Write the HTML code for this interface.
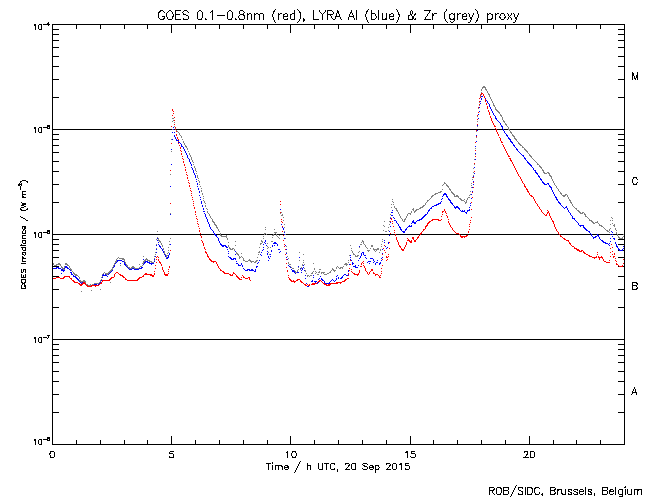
<!DOCTYPE html>
<html lang="en">
<head>
<meta charset="utf-8">
<title>GOES 0.1-0.8nm (red), LYRA Al (blue) &amp; Zr (grey) proxy</title>
<style>
html,body{margin:0;padding:0;background:#fff;overflow:hidden}
body{width:650px;height:500px;font-family:"Liberation Sans",sans-serif}
svg{display:block;width:650px;height:500px;shape-rendering:crispEdges}
.t text{font-family:"Liberation Sans",sans-serif;fill:#000;fill-opacity:0;stroke:none}
</style>
</head>
<body>
<svg width="650" height="500" viewBox="0 0 650 500" role="img" aria-label="GOES 0.1-0.8nm (red), LYRA Al (blue) and Zr (grey) proxy, 20 Sep 2015">
<rect width="650" height="500" fill="#fff"/>
<path fill="#7f7f7f" d="M53 263h1v2h-1zM54 265h3v1h-3zM56 264h5v1h-5zM58 263h2v1h-2zM60 265h1v1h-1zM61 266h1v1h-1zM61 267h2v1h-2zM62 268h2v1h-2zM63 269h2v1h-2zM64 266h1v2h-1zM65 263h2v1h-2zM65 264h3v1h-3zM67 265h2v1h-2zM69 266h1v2h-1zM70 268h1v1h-1zM70 269h2v1h-2zM71 270h1v1h-1zM72 271h1v1h-1zM73 272h1v1h-1zM73 273h2v1h-2zM74 274h3v1h-3zM75 275h3v1h-3zM78 276h1v1h-1zM79 277h1v2h-1zM79 280h2v1h-2zM80 281h6v1h-6zM81 282h1v1h-1zM81 291h1v1h-1zM83 280h2v1h-2zM85 282h1v1h-1zM86 284h2v1h-2zM88 285h3v1h-3zM90 284h1v1h-1zM91 290h1v1h-1zM92 284h2v1h-2zM94 283h5v1h-5zM99 282h1v1h-1zM100 280h1v2h-1zM100 289h1v1h-1zM101 277h1v1h-1zM101 279h1v1h-1zM102 274h1v1h-1zM102 276h1v1h-1zM103 273h1v1h-1zM104 272h1v1h-1zM105 273h4v1h-4zM106 274h2v1h-2zM108 272h2v1h-2zM109 271h2v1h-2zM110 282h1v1h-1zM110 270h2v1h-2zM111 269h2v1h-2zM112 267h1v2h-1zM113 265h1v2h-1zM114 263h1v2h-1zM115 262h1v1h-1zM115 261h2v1h-2zM116 259h1v2h-1zM117 258h1v1h-1zM118 257h1v1h-1zM119 258h5v1h-5zM120 265h1v1h-1zM122 259h3v1h-3zM124 260h1v2h-1zM125 262h1v2h-1zM126 264h1v1h-1zM126 265h2v1h-2zM127 266h1v1h-1zM128 267h2v1h-2zM129 268h3v1h-3zM131 267h4v1h-4zM132 266h2v1h-2zM134 268h5v1h-5zM139 264h1v1h-1zM139 267h1v1h-1zM140 266h2v1h-2zM142 265h1v1h-1zM142 263h2v1h-2zM143 256h1v1h-1zM143 262h1v1h-1zM143 261h2v1h-2zM144 260h2v1h-2zM145 259h3v1h-3zM146 258h1v1h-1zM147 260h3v1h-3zM149 261h3v1h-3zM151 262h3v1h-3zM154 256h1v1h-1zM154 258h1v1h-1zM154 260h1v1h-1zM155 252h1v1h-1zM155 254h1v1h-1zM156 239h1v1h-1zM156 244h1v1h-1zM156 248h1v1h-1zM157 231h1v1h-1zM157 237h1v1h-1zM158 238h1v2h-1zM158 240h2v1h-2zM159 241h2v1h-2zM160 242h1v1h-1zM161 243h1v2h-1zM162 245h1v2h-1zM163 248h1v2h-1zM164 251h1v3h-1zM165 254h1v1h-1zM166 256h1v2h-1zM166 255h2v1h-2zM167 253h1v1h-1zM168 247h1v1h-1zM168 250h1v1h-1zM168 252h1v1h-1zM169 241h1v1h-1zM169 244h1v1h-1zM170 174h1v1h-1zM170 213h1v1h-1zM170 238h1v1h-1zM171 139h1v1h-1zM171 151h1v1h-1zM172 121h1v1h-1zM172 129h1v1h-1zM172 118h2v1h-2zM173 120h1v1h-1zM174 122h1v1h-1zM174 126h1v1h-1zM175 128h1v1h-1zM176 130h1v1h-1zM177 131h1v1h-1zM178 132h1v1h-1zM179 133h1v2h-1zM180 135h1v1h-1zM181 136h1v2h-1zM182 139h1v1h-1zM183 141h1v2h-1zM184 143h1v2h-1zM185 145h1v1h-1zM185 146h2v1h-2zM186 147h1v1h-1zM187 148h1v2h-1zM188 151h1v1h-1zM189 153h1v2h-1zM190 155h1v2h-1zM191 157h1v3h-1zM192 160h1v2h-1zM193 162h1v1h-1zM193 164h1v1h-1zM194 166h1v2h-1zM195 168h1v3h-1zM196 171h1v1h-1zM196 173h1v1h-1zM197 175h1v3h-1zM198 178h1v1h-1zM198 180h1v1h-1zM199 181h1v2h-1zM199 184h1v1h-1zM200 186h1v1h-1zM201 188h1v1h-1zM201 190h1v2h-1zM202 193h1v2h-1zM203 196h1v1h-1zM203 198h1v1h-1zM203 200h1v1h-1zM204 201h1v2h-1zM205 203h1v1h-1zM205 205h1v2h-1zM206 208h1v1h-1zM207 209h1v1h-1zM207 211h1v2h-1zM208 213h1v1h-1zM209 214h1v2h-1zM210 216h1v2h-1zM211 218h1v1h-1zM212 219h1v2h-1zM212 221h2v1h-2zM213 222h2v1h-2zM214 223h1v1h-1zM214 224h2v1h-2zM215 225h2v1h-2zM216 226h1v1h-1zM216 227h2v1h-2zM217 228h1v1h-1zM218 229h1v2h-1zM219 231h1v1h-1zM220 233h1v2h-1zM220 235h2v1h-2zM221 236h6v1h-6zM226 235h1v1h-1zM226 237h1v1h-1zM227 238h1v2h-1zM228 242h1v1h-1zM228 245h1v2h-1zM229 247h1v1h-1zM229 248h2v1h-2zM230 249h3v1h-3zM232 248h2v1h-2zM234 249h1v2h-1zM235 241h1v1h-1zM235 245h1v1h-1zM236 252h1v1h-1zM236 253h2v1h-2zM237 254h2v1h-2zM238 255h1v1h-1zM239 256h1v1h-1zM239 258h1v1h-1zM239 257h2v1h-2zM241 253h1v1h-1zM241 256h1v1h-1zM242 257h1v1h-1zM243 258h1v2h-1zM243 260h2v1h-2zM245 261h3v1h-3zM248 260h3v1h-3zM249 259h1v1h-1zM250 261h4v1h-4zM251 262h1v1h-1zM254 262h2v1h-2zM255 261h2v1h-2zM256 260h2v1h-2zM257 257h1v1h-1zM258 254h1v1h-1zM258 252h2v1h-2zM259 247h1v1h-1zM259 251h1v1h-1zM260 244h1v1h-1zM260 243h2v1h-2zM261 240h1v1h-1zM261 241h2v1h-2zM262 242h1v1h-1zM263 236h1v1h-1zM263 238h1v1h-1zM264 234h1v1h-1zM264 233h2v1h-2zM265 227h1v1h-1zM265 229h1v1h-1zM266 234h1v1h-1zM267 243h1v1h-1zM267 246h1v1h-1zM267 248h1v1h-1zM268 247h1v1h-1zM268 252h1v1h-1zM269 254h1v1h-1zM270 247h1v1h-1zM271 241h2v1h-2zM272 237h1v1h-1zM272 235h2v1h-2zM273 234h1v1h-1zM274 229h1v1h-1zM274 232h3v1h-3zM275 233h1v1h-1zM276 234h1v2h-1zM277 236h1v1h-1zM278 237h1v1h-1zM279 235h1v1h-1zM279 238h1v1h-1zM280 213h1v1h-1zM281 212h1v1h-1zM281 215h2v1h-2zM282 214h1v1h-1zM283 217h1v1h-1zM283 220h1v1h-1zM284 224h1v1h-1zM284 227h1v1h-1zM284 231h1v1h-1zM285 234h1v1h-1zM285 238h1v1h-1zM286 246h1v1h-1zM286 252h1v1h-1zM287 256h1v1h-1zM288 258h1v1h-1zM288 262h1v2h-1zM289 264h2v1h-2zM290 266h1v1h-1zM291 267h1v1h-1zM292 268h2v1h-2zM294 270h1v1h-1zM295 271h1v1h-1zM295 272h2v1h-2zM297 270h1v2h-1zM298 267h1v1h-1zM298 269h1v1h-1zM299 252h1v1h-1zM299 260h1v1h-1zM300 269h1v1h-1zM301 267h1v2h-1zM302 264h1v2h-1zM303 254h1v1h-1zM303 260h1v1h-1zM303 262h1v1h-1zM304 264h1v1h-1zM304 268h1v1h-1zM305 270h1v2h-1zM306 273h1v1h-1zM307 276h1v1h-1zM307 275h2v1h-2zM309 276h1v1h-1zM310 275h2v1h-2zM311 273h2v1h-2zM312 272h1v1h-1zM313 263h1v1h-1zM313 271h1v1h-1zM314 268h1v2h-1zM315 271h1v1h-1zM315 273h1v1h-1zM316 272h1v1h-1zM317 274h2v1h-2zM318 272h2v1h-2zM319 271h1v1h-1zM319 269h2v1h-2zM321 273h1v1h-1zM321 272h4v1h-4zM323 273h1v1h-1zM324 274h3v1h-3zM327 273h2v1h-2zM329 272h2v1h-2zM330 271h1v1h-1zM331 270h1v1h-1zM332 268h1v1h-1zM332 269h2v1h-2zM333 270h3v1h-3zM334 271h1v1h-1zM336 267h1v2h-1zM337 266h1v1h-1zM338 267h1v1h-1zM339 268h2v1h-2zM340 267h3v1h-3zM342 268h1v1h-1zM343 266h1v1h-1zM344 264h4v1h-4zM345 263h2v1h-2zM346 265h1v1h-1zM348 260h1v1h-1zM348 262h1v1h-1zM349 255h1v1h-1zM350 245h1v1h-1zM351 248h1v1h-1zM351 250h1v1h-1zM352 251h1v2h-1zM353 253h1v1h-1zM353 254h2v1h-2zM355 255h1v1h-1zM355 256h3v1h-3zM357 255h2v1h-2zM358 252h1v1h-1zM359 247h1v1h-1zM359 251h1v1h-1zM360 244h2v1h-2zM361 242h1v1h-1zM362 240h1v1h-1zM362 241h2v1h-2zM363 242h1v2h-1zM364 244h1v1h-1zM365 245h1v2h-1zM366 247h1v1h-1zM367 248h1v1h-1zM367 250h3v1h-3zM368 251h1v1h-1zM370 248h1v1h-1zM371 245h2v2h-2zM373 248h1v1h-1zM373 249h6v1h-6zM374 250h1v1h-1zM375 251h1v1h-1zM376 250h1v1h-1zM377 248h2v1h-2zM379 252h1v1h-1zM380 249h1v2h-1zM381 244h1v1h-1zM381 246h1v1h-1zM382 239h1v1h-1zM382 241h1v1h-1zM383 225h1v1h-1zM383 230h1v1h-1zM384 221h1v1h-1zM384 226h1v1h-1zM385 231h2v1h-2zM388 227h1v1h-1zM388 230h1v1h-1zM389 221h1v1h-1zM389 224h1v1h-1zM390 214h1v1h-1zM390 217h1v1h-1zM391 204h1v1h-1zM391 207h1v1h-1zM392 199h1v1h-1zM392 201h1v1h-1zM393 202h1v1h-1zM393 204h1v1h-1zM394 206h1v2h-1zM395 208h2v1h-2zM396 209h1v1h-1zM396 210h2v1h-2zM397 211h1v1h-1zM398 212h1v2h-1zM399 214h1v2h-1zM400 216h1v2h-1zM401 218h1v1h-1zM402 219h1v2h-1zM403 221h2v1h-2zM404 220h1v1h-1zM404 219h2v1h-2zM405 218h1v1h-1zM406 216h1v2h-1zM407 214h1v2h-1zM408 213h3v1h-3zM410 214h1v1h-1zM411 211h1v2h-1zM412 209h2v1h-2zM413 208h1v1h-1zM413 210h1v1h-1zM414 212h1v1h-1zM414 211h2v1h-2zM415 210h2v1h-2zM416 209h3v1h-3zM419 208h2v1h-2zM420 207h3v1h-3zM422 206h2v1h-2zM423 205h2v1h-2zM425 203h1v2h-1zM426 202h1v1h-1zM427 201h1v1h-1zM427 200h2v1h-2zM429 199h1v1h-1zM430 198h1v1h-1zM431 197h1v1h-1zM431 196h2v1h-2zM432 195h2v1h-2zM434 194h2v1h-2zM435 193h3v1h-3zM438 192h3v1h-3zM440 191h2v1h-2zM442 185h1v1h-1zM442 189h1v1h-1zM443 184h1v1h-1zM444 182h1v1h-1zM444 183h2v1h-2zM446 184h1v1h-1zM446 185h2v1h-2zM447 186h2v1h-2zM448 187h1v1h-1zM449 188h1v1h-1zM449 189h2v1h-2zM450 190h1v1h-1zM451 191h1v1h-1zM451 192h2v1h-2zM452 193h2v1h-2zM453 194h2v1h-2zM454 195h1v1h-1zM454 196h5v1h-5zM456 195h2v1h-2zM458 197h1v1h-1zM459 198h2v1h-2zM460 199h2v1h-2zM461 200h3v1h-3zM464 199h1v1h-1zM464 201h1v1h-1zM465 203h1v1h-1zM465 202h2v1h-2zM466 200h1v2h-1zM467 198h1v2h-1zM468 197h2v1h-2zM469 195h1v1h-1zM470 191h1v1h-1zM470 194h1v1h-1zM471 183h1v1h-1zM471 185h1v1h-1zM471 187h1v1h-1zM472 177h1v1h-1zM472 179h1v1h-1zM473 168h1v1h-1zM473 172h1v1h-1zM473 175h1v1h-1zM474 159h1v1h-1zM474 164h1v1h-1zM475 148h1v1h-1zM475 154h1v1h-1zM476 131h1v1h-1zM476 137h1v1h-1zM477 116h1v1h-1zM477 121h1v1h-1zM477 126h1v1h-1zM478 108h1v1h-1zM479 102h1v1h-1zM479 105h1v1h-1zM480 94h1v1h-1zM480 96h1v1h-1zM481 89h1v2h-1zM481 92h1v1h-1zM482 88h1v1h-1zM482 87h4v1h-4zM483 86h2v1h-2zM485 88h1v1h-1zM485 89h2v1h-2zM486 90h1v1h-1zM487 91h1v2h-1zM488 93h1v1h-1zM488 94h2v1h-2zM489 95h1v2h-1zM490 97h1v2h-1zM491 99h1v2h-1zM492 101h1v2h-1zM493 103h1v2h-1zM493 105h2v1h-2zM494 106h1v1h-1zM495 107h1v2h-1zM495 109h2v1h-2zM496 110h2v1h-2zM497 111h2v1h-2zM498 112h2v1h-2zM499 113h1v1h-1zM500 114h1v1h-1zM500 115h2v1h-2zM501 116h1v1h-1zM502 117h1v3h-1zM503 120h1v1h-1zM503 121h2v1h-2zM504 122h1v1h-1zM505 123h1v1h-1zM505 124h2v1h-2zM506 125h1v1h-1zM507 126h1v1h-1zM508 127h1v2h-1zM508 129h2v1h-2zM509 130h1v1h-1zM510 131h1v1h-1zM510 132h2v1h-2zM511 133h1v1h-1zM512 134h1v1h-1zM512 135h2v1h-2zM513 136h2v1h-2zM514 137h1v1h-1zM514 138h2v1h-2zM515 139h2v1h-2zM516 140h1v1h-1zM517 141h1v1h-1zM518 142h1v1h-1zM518 143h2v1h-2zM519 144h2v1h-2zM520 145h2v1h-2zM522 146h1v1h-1zM522 147h2v1h-2zM524 148h1v1h-1zM524 149h2v1h-2zM525 150h2v1h-2zM526 151h2v1h-2zM527 152h1v1h-1zM528 153h1v1h-1zM529 154h1v1h-1zM529 155h2v1h-2zM530 156h2v1h-2zM531 157h1v1h-1zM532 158h1v1h-1zM533 159h1v1h-1zM534 160h1v1h-1zM535 161h1v1h-1zM536 162h1v1h-1zM537 163h1v1h-1zM537 164h2v1h-2zM539 165h1v1h-1zM539 166h2v1h-2zM540 167h2v1h-2zM541 168h1v1h-1zM542 169h1v1h-1zM542 170h2v1h-2zM543 171h1v1h-1zM543 172h2v1h-2zM544 173h3v1h-3zM547 172h2v1h-2zM548 173h2v1h-2zM549 174h1v1h-1zM549 175h2v1h-2zM550 176h2v1h-2zM551 177h1v2h-1zM552 179h1v2h-1zM553 181h1v2h-1zM554 183h1v2h-1zM555 185h1v1h-1zM556 186h1v2h-1zM557 188h1v1h-1zM558 189h1v2h-1zM559 191h1v1h-1zM560 192h1v1h-1zM560 193h2v1h-2zM561 194h1v1h-1zM562 195h4v1h-4zM563 196h2v1h-2zM565 194h2v1h-2zM567 195h1v2h-1zM568 197h1v2h-1zM569 199h1v1h-1zM569 200h2v1h-2zM570 201h1v1h-1zM570 202h2v1h-2zM571 203h1v1h-1zM572 204h1v2h-1zM573 206h1v1h-1zM574 207h1v1h-1zM575 208h2v1h-2zM576 209h1v1h-1zM577 210h2v1h-2zM578 211h2v1h-2zM579 212h2v1h-2zM580 213h3v1h-3zM582 212h2v1h-2zM584 213h1v1h-1zM584 214h2v1h-2zM585 215h1v1h-1zM585 216h2v1h-2zM587 217h1v1h-1zM588 218h1v1h-1zM589 219h1v1h-1zM589 220h3v1h-3zM591 221h2v1h-2zM592 222h2v1h-2zM593 223h2v1h-2zM595 222h3v1h-3zM597 221h1v1h-1zM598 223h1v1h-1zM599 224h1v1h-1zM599 225h3v1h-3zM601 226h2v1h-2zM603 227h1v1h-1zM604 228h1v1h-1zM605 229h1v1h-1zM606 230h2v1h-2zM607 231h2v1h-2zM609 229h1v2h-1zM609 232h1v1h-1zM610 220h1v1h-1zM610 224h1v1h-1zM610 228h1v1h-1zM611 217h1v1h-1zM612 218h1v1h-1zM612 220h1v1h-1zM612 223h1v1h-1zM613 225h2v1h-2zM614 224h1v1h-1zM614 226h1v1h-1zM615 228h1v2h-1zM616 230h1v1h-1zM616 232h1v2h-1zM617 234h1v2h-1zM618 236h1v1h-1zM618 237h2v1h-2zM619 238h4v1h-4zM622 237h1v1h-1zM623 234h1v1h-1zM623 236h1v1h-1z"><title>LYRA Zr proxy (grey)</title></path>
<path fill="#ff0000" d="M53 278h3v1h-3zM56 277h4v1h-4zM60 278h4v1h-4zM63 277h2v1h-2zM64 276h6v1h-6zM69 277h1v1h-1zM70 278h2v1h-2zM71 279h1v1h-1zM72 280h2v1h-2zM73 281h2v1h-2zM74 282h4v1h-4zM78 283h2v1h-2zM79 284h4v1h-4zM80 285h2v1h-2zM82 283h4v1h-4zM83 282h2v1h-2zM85 284h1v1h-1zM86 285h2v1h-2zM87 286h5v1h-5zM91 285h8v1h-8zM95 286h1v1h-1zM99 284h1v1h-1zM100 283h2v1h-2zM101 282h1v1h-1zM102 281h1v1h-1zM102 280h8v1h-8zM109 279h2v1h-2zM110 278h2v1h-2zM111 277h3v1h-3zM114 274h1v3h-1zM115 273h1v1h-1zM116 272h2v1h-2zM118 273h1v1h-1zM119 274h2v1h-2zM120 275h3v1h-3zM122 276h2v1h-2zM123 277h2v1h-2zM125 278h1v1h-1zM125 279h2v1h-2zM127 280h11v1h-11zM137 279h2v1h-2zM138 278h2v1h-2zM139 277h3v1h-3zM142 276h2v1h-2zM143 275h1v1h-1zM144 274h8v1h-8zM145 273h2v1h-2zM150 275h4v1h-4zM152 276h2v1h-2zM154 271h1v1h-1zM154 273h1v2h-1zM155 265h1v1h-1zM155 268h1v1h-1zM156 257h1v1h-1zM156 259h1v1h-1zM156 262h1v1h-1zM157 256h1v1h-1zM158 257h1v1h-1zM158 259h1v2h-1zM159 261h1v1h-1zM159 262h2v1h-2zM160 263h1v1h-1zM161 264h1v2h-1zM162 267h1v3h-1zM163 270h1v2h-1zM164 272h1v2h-1zM164 274h4v1h-4zM165 275h3v1h-3zM168 269h1v1h-1zM168 271h1v1h-1zM168 273h1v1h-1zM169 266h1v2h-1zM170 170h1v1h-1zM170 203h1v1h-1zM170 250h1v1h-1zM171 126h1v1h-1zM171 143h1v1h-1zM172 109h1v2h-1zM172 115h1v1h-1zM173 111h1v1h-1zM173 113h1v1h-1zM174 117h1v1h-1zM174 120h1v1h-1zM174 124h1v1h-1zM175 127h1v1h-1zM175 129h1v1h-1zM176 131h1v1h-1zM176 134h1v2h-1zM177 137h1v2h-1zM178 139h1v1h-1zM178 141h1v1h-1zM178 143h1v1h-1zM179 145h1v1h-1zM180 147h1v2h-1zM180 150h1v1h-1zM181 151h1v1h-1zM181 153h1v2h-1zM182 156h1v1h-1zM182 158h1v1h-1zM183 159h1v1h-1zM183 161h1v2h-1zM184 164h1v2h-1zM185 167h1v1h-1zM185 169h1v2h-1zM186 172h1v1h-1zM186 174h1v1h-1zM187 175h1v1h-1zM187 177h1v2h-1zM188 180h1v1h-1zM188 182h1v1h-1zM189 183h1v1h-1zM189 185h1v2h-1zM190 188h1v1h-1zM190 190h1v1h-1zM191 191h1v1h-1zM191 193h1v1h-1zM191 195h1v1h-1zM192 197h1v1h-1zM192 199h1v1h-1zM193 201h1v1h-1zM193 203h1v1h-1zM193 205h1v1h-1zM194 207h1v2h-1zM195 211h1v2h-1zM195 214h1v1h-1zM196 216h1v1h-1zM196 218h1v1h-1zM197 219h1v1h-1zM197 221h1v1h-1zM197 223h1v1h-1zM198 224h1v1h-1zM198 226h1v1h-1zM199 228h1v1h-1zM199 230h1v2h-1zM200 233h1v1h-1zM200 235h1v1h-1zM201 236h1v2h-1zM201 240h1v1h-1zM202 241h1v2h-1zM203 243h1v3h-1zM204 247h1v2h-1zM205 249h1v1h-1zM205 251h1v1h-1zM205 252h2v1h-2zM206 253h1v1h-1zM207 254h1v2h-1zM207 256h2v1h-2zM208 257h1v1h-1zM209 258h1v1h-1zM209 259h2v1h-2zM210 260h2v1h-2zM211 261h5v1h-5zM213 262h1v1h-1zM216 262h1v2h-1zM217 264h1v2h-1zM218 266h1v2h-1zM219 268h1v1h-1zM220 269h1v1h-1zM220 270h2v1h-2zM222 271h2v1h-2zM223 272h2v1h-2zM224 273h5v1h-5zM229 274h2v1h-2zM230 275h3v1h-3zM232 274h1v1h-1zM233 272h1v1h-1zM233 273h2v1h-2zM235 274h1v1h-1zM236 275h1v1h-1zM236 276h2v1h-2zM237 277h2v1h-2zM238 278h2v1h-2zM239 279h3v1h-3zM241 277h1v1h-1zM242 275h1v1h-1zM243 276h1v1h-1zM243 277h2v1h-2zM245 278h3v1h-3zM248 277h2v1h-2zM249 278h1v2h-1zM250 280h1v1h-1zM280 201h1v1h-1zM280 204h1v1h-1zM280 212h1v1h-1zM281 219h1v1h-1zM281 221h1v1h-1zM282 222h1v1h-1zM282 226h1v1h-1zM282 231h1v1h-1zM283 235h1v1h-1zM283 240h1v1h-1zM284 244h1v1h-1zM284 246h1v1h-1zM285 249h1v1h-1zM285 254h1v1h-1zM286 259h1v1h-1zM286 263h1v1h-1zM286 267h1v1h-1zM287 270h1v2h-1zM288 275h1v1h-1zM288 277h1v1h-1zM289 278h1v1h-1zM289 279h2v1h-2zM290 280h2v1h-2zM291 281h5v1h-5zM293 280h1v1h-1zM294 282h1v1h-1zM296 280h2v1h-2zM297 279h3v1h-3zM300 280h1v1h-1zM300 281h2v1h-2zM301 282h2v1h-2zM303 283h1v1h-1zM304 284h2v1h-2zM305 285h2v1h-2zM307 284h1v1h-1zM308 285h2v1h-2zM309 284h1v1h-1zM311 284h4v1h-4zM312 283h5v1h-5zM317 282h1v1h-1zM318 281h2v1h-2zM319 280h2v1h-2zM321 281h1v1h-1zM322 282h1v1h-1zM323 283h2v1h-2zM324 284h3v1h-3zM326 285h4v1h-4zM328 284h3v1h-3zM330 283h8v1h-8zM336 282h6v1h-6zM340 283h1v1h-1zM342 281h3v1h-3zM344 280h2v1h-2zM345 279h2v1h-2zM347 278h2v1h-2zM348 273h1v1h-1zM348 275h1v1h-1zM349 268h1v1h-1zM349 270h1v1h-1zM350 260h1v1h-1zM350 264h1v1h-1zM351 269h1v1h-1zM351 271h1v1h-1zM352 272h1v1h-1zM353 273h2v1h-2zM354 274h5v1h-5zM357 275h1v1h-1zM358 273h1v1h-1zM359 270h1v3h-1zM360 266h2v1h-2zM361 263h1v2h-1zM362 262h1v1h-1zM363 261h1v1h-1zM363 263h1v1h-1zM363 265h1v1h-1zM364 266h1v2h-1zM365 268h1v3h-1zM366 271h1v1h-1zM367 272h1v2h-1zM368 274h1v1h-1zM369 272h1v2h-1zM370 271h1v1h-1zM371 269h2v2h-2zM373 272h1v1h-1zM373 273h2v1h-2zM375 275h1v1h-1zM375 274h3v1h-3zM378 275h1v1h-1zM379 276h1v1h-1zM379 277h2v1h-2zM380 275h1v1h-1zM381 268h1v1h-1zM381 271h1v1h-1zM381 273h1v1h-1zM382 254h1v1h-1zM382 259h1v1h-1zM382 265h1v1h-1zM383 248h1v1h-1zM384 245h1v1h-1zM384 250h1v1h-1zM385 252h1v1h-1zM386 256h1v1h-1zM386 260h1v1h-1zM386 257h2v1h-2zM387 259h1v1h-1zM388 254h1v1h-1zM388 256h1v1h-1zM389 242h1v1h-1zM389 248h1v1h-1zM390 221h1v1h-1zM390 233h1v1h-1zM391 218h1v2h-1zM392 221h1v1h-1zM392 223h1v1h-1zM393 226h1v1h-1zM394 230h1v1h-1zM394 232h1v1h-1zM395 234h1v2h-1zM396 237h1v3h-1zM397 240h1v2h-1zM398 242h1v3h-1zM399 245h1v1h-1zM399 246h2v1h-2zM400 247h1v1h-1zM401 248h1v1h-1zM401 249h3v1h-3zM402 250h2v1h-2zM404 247h1v2h-1zM405 245h1v2h-1zM406 242h1v3h-1zM407 238h1v1h-1zM407 240h3v1h-3zM408 239h1v1h-1zM409 241h3v1h-3zM410 242h2v1h-2zM411 240h1v1h-1zM412 237h2v2h-2zM413 239h1v1h-1zM414 240h2v2h-2zM416 239h1v1h-1zM417 238h1v1h-1zM417 237h2v1h-2zM418 236h1v1h-1zM419 235h1v1h-1zM420 234h1v1h-1zM420 233h2v1h-2zM421 232h1v1h-1zM422 231h1v1h-1zM423 230h1v1h-1zM423 229h2v1h-2zM425 227h1v2h-1zM425 226h2v1h-2zM426 225h2v1h-2zM427 224h1v1h-1zM427 223h2v1h-2zM428 222h2v1h-2zM429 221h2v1h-2zM431 220h2v1h-2zM432 219h7v1h-7zM438 220h3v1h-3zM441 216h1v1h-1zM441 219h1v1h-1zM442 212h1v1h-1zM442 214h1v1h-1zM442 211h2v1h-2zM444 209h1v2h-1zM445 211h1v2h-1zM446 213h1v1h-1zM446 215h1v1h-1zM447 216h1v2h-1zM448 219h1v1h-1zM448 221h1v2h-1zM449 223h1v2h-1zM450 225h1v2h-1zM451 227h1v1h-1zM452 228h1v2h-1zM453 230h1v1h-1zM454 231h1v1h-1zM455 232h1v1h-1zM456 233h3v1h-3zM459 234h1v1h-1zM460 235h1v1h-1zM460 236h7v1h-7zM461 237h2v1h-2zM464 237h1v1h-1zM466 235h2v1h-2zM468 231h1v2h-1zM469 224h1v1h-1zM469 226h1v1h-1zM469 229h1v1h-1zM470 220h1v1h-1zM470 222h1v1h-1zM471 202h1v1h-1zM471 209h1v1h-1zM471 217h1v1h-1zM472 192h1v1h-1zM472 197h1v1h-1zM473 177h1v1h-1zM473 182h1v1h-1zM473 187h1v1h-1zM474 163h1v1h-1zM474 171h1v1h-1zM475 142h1v1h-1zM475 150h1v1h-1zM475 156h1v1h-1zM476 130h1v1h-1zM476 136h1v1h-1zM477 115h1v1h-1zM477 119h1v1h-1zM477 124h1v1h-1zM478 107h1v1h-1zM478 112h1v1h-1zM479 98h1v1h-1zM479 101h1v1h-1zM479 104h1v1h-1zM480 95h1v1h-1zM480 97h1v1h-1zM481 94h1v1h-1zM481 93h2v1h-2zM483 94h1v2h-1zM484 96h1v2h-1zM485 99h1v3h-1zM486 103h1v2h-1zM487 106h1v3h-1zM488 110h1v2h-1zM489 112h1v3h-1zM490 116h1v2h-1zM491 118h1v3h-1zM492 121h1v2h-1zM493 123h1v2h-1zM494 125h1v1h-1zM494 126h2v1h-2zM495 128h1v1h-1zM496 129h1v3h-1zM497 132h1v2h-1zM498 134h1v2h-1zM499 137h1v1h-1zM500 138h1v3h-1zM501 141h1v1h-1zM501 142h2v1h-2zM502 144h1v1h-1zM503 145h1v2h-1zM504 147h1v2h-1zM505 149h1v2h-1zM506 151h1v2h-1zM507 153h1v2h-1zM508 155h1v1h-1zM508 156h2v1h-2zM509 158h2v1h-2zM510 159h1v1h-1zM510 160h2v1h-2zM511 161h1v1h-1zM512 162h1v2h-1zM513 164h1v2h-1zM514 166h1v2h-1zM515 168h1v2h-1zM516 170h1v2h-1zM517 172h1v2h-1zM518 174h1v2h-1zM519 176h1v1h-1zM520 177h1v2h-1zM521 179h1v2h-1zM522 181h1v2h-1zM523 183h1v1h-1zM524 184h1v2h-1zM524 186h2v1h-2zM525 187h1v1h-1zM526 188h1v1h-1zM526 189h2v1h-2zM527 190h1v1h-1zM527 191h2v1h-2zM528 192h1v1h-1zM529 193h1v2h-1zM530 195h2v1h-2zM531 196h2v1h-2zM533 197h1v2h-1zM534 199h1v2h-1zM535 201h1v2h-1zM536 203h1v1h-1zM537 204h1v2h-1zM538 206h1v1h-1zM539 207h1v2h-1zM540 209h1v1h-1zM541 210h1v2h-1zM542 212h1v1h-1zM543 213h1v1h-1zM544 214h1v1h-1zM545 215h2v1h-2zM546 214h1v1h-1zM547 210h1v1h-1zM547 213h1v1h-1zM547 212h2v1h-2zM548 211h1v1h-1zM549 213h1v3h-1zM550 216h1v2h-1zM551 218h1v2h-1zM552 220h1v1h-1zM552 221h2v1h-2zM553 222h1v2h-1zM554 224h1v3h-1zM555 227h1v2h-1zM556 229h1v2h-1zM557 231h1v1h-1zM558 232h1v2h-1zM559 234h1v1h-1zM560 235h1v1h-1zM560 236h2v1h-2zM562 237h1v1h-1zM563 238h2v1h-2zM564 239h2v1h-2zM566 240h3v1h-3zM568 241h1v1h-1zM569 242h1v1h-1zM569 243h2v1h-2zM570 244h1v1h-1zM571 245h1v1h-1zM572 246h2v1h-2zM574 247h1v1h-1zM574 248h3v1h-3zM576 249h3v1h-3zM577 250h3v1h-3zM579 251h3v1h-3zM581 250h2v1h-2zM583 251h1v1h-1zM583 252h2v1h-2zM584 253h2v1h-2zM586 254h2v1h-2zM588 255h2v1h-2zM589 256h3v1h-3zM592 257h5v1h-5zM594 258h1v1h-1zM596 256h1v1h-1zM597 252h1v1h-1zM597 254h1v1h-1zM598 256h1v1h-1zM598 257h5v1h-5zM599 258h1v2h-1zM601 256h1v1h-1zM602 258h1v1h-1zM603 259h1v2h-1zM604 261h2v1h-2zM606 262h4v1h-4zM609 260h1v1h-1zM610 248h1v1h-1zM610 252h1v1h-1zM610 256h1v1h-1zM611 244h1v1h-1zM612 247h1v1h-1zM612 251h1v1h-1zM612 254h1v1h-1zM613 257h1v1h-1zM613 256h2v1h-2zM614 253h1v2h-1zM615 258h1v1h-1zM615 260h1v1h-1zM616 261h1v1h-1zM616 263h1v1h-1zM616 264h2v1h-2zM618 265h1v1h-1zM619 266h4v1h-4zM622 265h1v1h-1zM623 259h1v1h-1zM623 263h1v1h-1z"><title>GOES 0.1-0.8nm (red)</title></path>
<path fill="#0000ff" d="M53 268h4v1h-4zM56 267h3v1h-3zM58 268h3v1h-3zM61 273h1v1h-1zM61 269h2v1h-2zM61 270h4v1h-4zM63 271h1v1h-1zM64 268h1v1h-1zM65 266h2v1h-2zM65 267h3v1h-3zM67 268h2v1h-2zM69 269h1v1h-1zM70 270h1v1h-1zM70 272h2v1h-2zM71 273h1v1h-1zM71 274h2v1h-2zM73 275h1v1h-1zM73 276h3v1h-3zM75 277h2v1h-2zM76 278h2v1h-2zM77 279h2v1h-2zM78 280h1v1h-1zM79 281h1v1h-1zM80 282h1v1h-1zM81 283h1v1h-1zM82 282h1v1h-1zM94 284h3v1h-3zM98 284h1v1h-1zM99 283h1v1h-1zM100 282h1v1h-1zM101 280h1v1h-1zM102 277h1v1h-1zM102 275h5v1h-5zM103 274h1v1h-1zM105 274h1v1h-1zM107 276h1v1h-1zM108 274h1v1h-1zM109 273h1v1h-1zM110 272h1v1h-1zM111 271h1v1h-1zM112 270h1v1h-1zM113 267h1v1h-1zM114 265h1v2h-1zM115 263h1v1h-1zM116 262h1v1h-1zM117 261h1v1h-1zM117 260h5v1h-5zM120 263h1v1h-1zM122 261h2v1h-2zM124 262h1v2h-1zM124 264h2v1h-2zM125 265h1v1h-1zM126 266h1v1h-1zM127 267h1v1h-1zM128 268h1v1h-1zM129 269h3v1h-3zM132 268h2v1h-2zM134 269h5v1h-5zM139 268h3v1h-3zM141 267h2v1h-2zM143 259h1v1h-1zM143 264h1v1h-1zM144 263h1v1h-1zM144 262h2v1h-2zM145 261h3v1h-3zM147 262h3v1h-3zM149 263h5v1h-5zM151 264h1v1h-1zM154 259h1v1h-1zM154 261h1v1h-1zM155 256h1v1h-1zM156 245h1v1h-1zM156 249h1v1h-1zM156 252h1v1h-1zM157 238h1v1h-1zM157 240h1v1h-1zM158 242h1v1h-1zM158 244h1v1h-1zM159 245h1v1h-1zM159 246h2v1h-2zM160 247h1v1h-1zM161 248h1v1h-1zM162 249h1v2h-1zM163 251h1v2h-1zM164 254h1v1h-1zM165 255h1v2h-1zM166 258h2v1h-2zM167 257h2v1h-2zM168 255h1v2h-1zM169 253h1v2h-1zM170 186h1v1h-1zM170 214h1v1h-1zM170 244h1v1h-1zM171 149h1v1h-1zM171 164h1v1h-1zM172 132h1v1h-1zM172 139h1v1h-1zM173 127h1v1h-1zM173 129h1v1h-1zM174 132h1v1h-1zM174 135h1v2h-1zM175 137h1v2h-1zM176 139h1v1h-1zM176 140h3v1h-3zM178 142h2v1h-2zM180 143h1v1h-1zM181 144h1v2h-1zM181 146h2v1h-2zM183 147h1v2h-1zM184 149h1v2h-1zM185 151h1v2h-1zM186 153h1v2h-1zM187 155h1v3h-1zM188 158h1v1h-1zM189 159h1v3h-1zM190 162h1v2h-1zM191 164h1v2h-1zM191 167h1v1h-1zM192 168h1v2h-1zM193 170h1v3h-1zM194 173h1v2h-1zM195 175h1v3h-1zM196 179h1v1h-1zM196 181h1v1h-1zM197 183h1v2h-1zM197 186h1v1h-1zM198 188h1v2h-1zM199 191h1v2h-1zM199 195h1v1h-1zM200 197h1v1h-1zM200 199h1v1h-1zM201 201h1v3h-1zM202 205h1v2h-1zM203 208h1v2h-1zM203 211h2v1h-2zM204 213h1v1h-1zM205 214h1v3h-1zM206 217h1v2h-1zM207 219h1v3h-1zM208 222h1v2h-1zM209 224h1v3h-1zM210 227h1v2h-1zM211 229h1v1h-1zM212 230h1v1h-1zM213 231h1v2h-1zM214 233h1v1h-1zM214 234h2v1h-2zM215 235h2v1h-2zM216 236h1v1h-1zM217 237h1v1h-1zM218 238h1v3h-1zM219 241h1v2h-1zM220 243h1v1h-1zM220 244h2v1h-2zM221 245h5v1h-5zM222 246h2v1h-2zM225 246h2v1h-2zM226 247h2v1h-2zM227 249h1v1h-1zM228 251h1v1h-1zM228 253h1v1h-1zM228 256h1v1h-1zM229 257h2v1h-2zM230 258h2v1h-2zM231 259h3v1h-3zM233 258h3v1h-3zM235 251h1v1h-1zM235 254h1v1h-1zM235 259h1v1h-1zM236 261h1v1h-1zM236 263h2v1h-2zM238 264h1v1h-1zM238 265h3v1h-3zM241 263h1v2h-1zM242 265h1v2h-1zM243 268h1v1h-1zM244 269h1v1h-1zM245 270h3v1h-3zM247 269h3v1h-3zM249 270h5v1h-5zM251 269h2v1h-2zM254 271h2v1h-2zM255 269h1v2h-1zM256 267h1v1h-1zM256 266h2v1h-2zM257 263h1v1h-1zM258 262h1v1h-1zM259 260h1v1h-1zM260 254h1v1h-1zM261 252h1v1h-1zM261 255h1v1h-1zM262 250h1v1h-1zM263 244h1v1h-1zM263 247h1v1h-1zM263 249h1v1h-1zM264 242h1v1h-1zM265 240h1v2h-1zM265 243h1v1h-1zM266 245h1v1h-1zM267 251h1v1h-1zM267 253h1v2h-1zM268 256h1v2h-1zM268 260h1v1h-1zM269 258h1v1h-1zM270 254h1v1h-1zM270 256h1v1h-1zM271 250h1v2h-1zM272 245h1v2h-1zM273 243h4v1h-4zM274 245h1v1h-1zM274 242h2v1h-2zM277 244h1v2h-1zM278 249h2v1h-2zM279 252h1v1h-1zM280 209h1v1h-1zM280 251h1v1h-1zM281 224h1v1h-1zM282 227h1v1h-1zM283 228h1v2h-1zM284 232h1v1h-1zM284 234h1v1h-1zM284 238h1v1h-1zM285 245h1v1h-1zM286 249h1v1h-1zM286 253h1v1h-1zM286 257h1v1h-1zM287 259h1v1h-1zM288 265h1v1h-1zM289 266h1v1h-1zM290 267h1v1h-1zM291 269h1v1h-1zM292 270h2v1h-2zM292 271h3v1h-3zM294 272h1v1h-1zM295 273h1v1h-1zM297 272h2v1h-2zM298 266h1v1h-1zM299 257h1v1h-1zM300 268h1v1h-1zM301 270h1v1h-1zM301 272h1v1h-1zM302 268h1v2h-1zM303 265h1v1h-1zM303 267h1v1h-1zM304 270h1v1h-1zM305 275h1v1h-1zM305 278h1v1h-1zM306 283h1v1h-1zM307 286h2v1h-2zM311 281h2v1h-2zM312 280h1v1h-1zM313 275h1v1h-1zM313 277h1v1h-1zM314 281h3v1h-3zM315 282h1v1h-1zM317 283h1v1h-1zM318 279h1v1h-1zM318 282h1v1h-1zM319 278h1v1h-1zM320 276h1v1h-1zM321 278h1v1h-1zM321 279h2v1h-2zM322 280h2v1h-2zM324 281h1v2h-1zM325 283h5v1h-5zM329 282h1v1h-1zM330 281h1v1h-1zM331 280h1v1h-1zM332 279h1v1h-1zM333 280h1v1h-1zM334 281h1v1h-1zM335 280h1v1h-1zM336 276h1v1h-1zM336 278h1v2h-1zM337 275h1v1h-1zM338 277h1v2h-1zM340 278h2v1h-2zM341 277h2v1h-2zM342 276h1v1h-1zM343 275h1v1h-1zM344 274h2v1h-2zM346 275h2v1h-2zM348 270h1v2h-1zM348 274h1v1h-1zM349 264h1v1h-1zM350 255h1v1h-1zM350 257h1v1h-1zM350 259h1v1h-1zM351 260h1v1h-1zM352 262h1v1h-1zM352 264h1v1h-1zM352 263h2v1h-2zM353 266h3v1h-3zM355 265h1v1h-1zM355 267h3v1h-3zM358 260h1v1h-1zM358 265h1v1h-1zM359 246h1v1h-1zM359 258h1v1h-1zM360 256h1v2h-1zM361 253h1v3h-1zM362 252h2v1h-2zM363 253h1v2h-1zM364 255h2v1h-2zM365 257h1v1h-1zM366 258h1v1h-1zM367 262h1v1h-1zM368 261h3v1h-3zM369 263h1v1h-1zM370 258h3v1h-3zM373 259h1v2h-1zM373 262h1v1h-1zM374 261h1v1h-1zM375 263h1v2h-1zM376 262h2v1h-2zM377 260h1v1h-1zM379 264h1v1h-1zM379 263h2v1h-2zM380 262h1v1h-1zM381 258h1v1h-1zM381 260h1v1h-1zM382 249h1v1h-1zM382 253h1v1h-1zM382 257h1v1h-1zM384 240h1v1h-1zM384 242h1v1h-1zM385 246h1v1h-1zM386 248h1v1h-1zM387 247h1v1h-1zM388 242h1v2h-1zM389 231h1v1h-1zM389 235h1v1h-1zM390 218h1v1h-1zM390 222h1v1h-1zM390 226h1v1h-1zM391 212h2v1h-2zM391 215h2v1h-2zM392 210h1v1h-1zM393 217h1v1h-1zM394 218h1v1h-1zM394 220h2v1h-2zM396 221h1v2h-1zM397 223h1v1h-1zM398 224h1v2h-1zM399 226h1v1h-1zM399 227h2v1h-2zM400 228h1v1h-1zM400 229h2v1h-2zM401 230h1v1h-1zM402 231h3v1h-3zM403 232h2v1h-2zM405 230h1v1h-1zM405 229h2v1h-2zM406 228h1v1h-1zM407 227h1v1h-1zM408 226h4v1h-4zM409 225h1v1h-1zM411 223h1v1h-1zM411 225h1v1h-1zM412 221h2v1h-2zM412 222h4v1h-4zM413 220h1v1h-1zM414 223h2v1h-2zM416 221h1v1h-1zM417 220h3v1h-3zM419 219h3v1h-3zM421 218h2v1h-2zM422 217h2v1h-2zM423 216h2v1h-2zM424 215h2v1h-2zM425 214h2v1h-2zM427 212h1v2h-1zM428 211h1v1h-1zM428 210h2v1h-2zM429 209h1v1h-1zM430 208h2v1h-2zM431 207h1v1h-1zM432 206h2v1h-2zM434 205h3v1h-3zM436 204h3v1h-3zM438 203h3v1h-3zM440 202h1v1h-1zM441 199h1v1h-1zM441 201h1v1h-1zM442 196h1v1h-1zM442 198h1v1h-1zM443 195h1v1h-1zM443 194h4v1h-4zM444 193h2v1h-2zM446 195h1v1h-1zM446 196h2v1h-2zM447 197h1v1h-1zM448 198h1v1h-1zM448 199h2v1h-2zM449 200h2v1h-2zM450 201h1v1h-1zM450 202h2v1h-2zM451 203h2v1h-2zM452 204h1v1h-1zM453 205h1v1h-1zM454 206h1v1h-1zM454 207h5v1h-5zM455 208h1v1h-1zM456 206h2v1h-2zM458 208h2v1h-2zM459 209h1v1h-1zM460 210h1v1h-1zM461 211h4v1h-4zM462 210h1v1h-1zM464 210h1v1h-1zM465 212h2v1h-2zM466 213h1v1h-1zM467 211h1v1h-1zM467 210h3v1h-3zM469 207h1v1h-1zM469 209h1v1h-1zM470 203h1v1h-1zM470 205h1v1h-1zM471 194h1v1h-1zM471 198h1v1h-1zM472 187h1v1h-1zM472 191h1v1h-1zM473 176h1v1h-1zM473 181h1v1h-1zM473 184h1v1h-1zM474 167h1v1h-1zM474 173h1v1h-1zM475 146h1v1h-1zM475 153h1v1h-1zM475 159h1v1h-1zM476 135h1v1h-1zM476 141h1v1h-1zM477 125h1v1h-1zM477 130h1v1h-1zM478 114h1v1h-1zM478 118h1v1h-1zM479 107h1v1h-1zM479 111h1v1h-1zM480 101h1v1h-1zM480 103h1v1h-1zM481 98h1v2h-1zM481 96h2v1h-2zM485 98h1v1h-1zM486 100h1v1h-1zM487 101h1v2h-1zM488 103h1v1h-1zM489 104h1v3h-1zM490 107h1v2h-1zM491 109h1v2h-1zM492 111h1v2h-1zM493 113h1v2h-1zM494 115h1v1h-1zM495 116h1v2h-1zM495 118h2v1h-2zM496 119h1v1h-1zM497 120h1v1h-1zM498 121h1v1h-1zM499 122h1v1h-1zM500 123h1v2h-1zM501 125h1v1h-1zM501 126h2v1h-2zM502 127h1v2h-1zM503 129h1v2h-1zM504 131h1v2h-1zM505 133h1v1h-1zM506 134h1v1h-1zM506 135h2v1h-2zM507 136h1v1h-1zM508 137h1v1h-1zM508 138h2v1h-2zM509 139h2v1h-2zM510 140h1v1h-1zM510 141h2v1h-2zM511 142h2v1h-2zM512 143h1v1h-1zM513 144h1v1h-1zM513 145h2v1h-2zM514 146h1v1h-1zM515 147h1v1h-1zM516 148h1v1h-1zM516 149h2v1h-2zM517 150h1v1h-1zM518 151h1v1h-1zM519 152h1v1h-1zM520 153h1v1h-1zM521 154h1v1h-1zM522 155h2v1h-2zM523 156h1v1h-1zM524 157h1v1h-1zM524 158h2v1h-2zM525 159h1v1h-1zM526 160h1v1h-1zM527 161h1v1h-1zM527 162h2v1h-2zM528 163h2v1h-2zM529 164h2v1h-2zM530 165h2v1h-2zM531 166h1v1h-1zM532 167h1v1h-1zM533 168h1v2h-1zM534 170h2v1h-2zM535 171h1v1h-1zM535 172h2v1h-2zM536 173h2v1h-2zM537 174h1v1h-1zM538 175h1v1h-1zM538 176h2v1h-2zM539 177h1v1h-1zM540 178h1v1h-1zM540 179h2v1h-2zM541 180h1v1h-1zM542 181h1v1h-1zM542 182h2v1h-2zM543 183h2v1h-2zM544 184h3v1h-3zM547 183h2v1h-2zM548 184h1v1h-1zM549 185h1v1h-1zM549 186h2v1h-2zM550 187h2v1h-2zM551 188h1v2h-1zM552 190h1v2h-1zM553 192h1v2h-1zM554 194h1v2h-1zM555 196h1v1h-1zM555 197h2v1h-2zM556 198h1v1h-1zM556 199h2v1h-2zM557 200h1v1h-1zM558 201h1v1h-1zM558 202h2v1h-2zM559 203h2v1h-2zM560 204h1v1h-1zM561 205h1v1h-1zM562 206h1v1h-1zM563 207h1v1h-1zM564 208h1v1h-1zM565 207h2v1h-2zM566 206h1v1h-1zM567 208h1v2h-1zM568 210h1v2h-1zM569 212h1v1h-1zM570 213h1v2h-1zM571 215h1v1h-1zM572 216h1v2h-1zM572 218h3v1h-3zM574 219h1v1h-1zM575 220h1v1h-1zM576 221h1v1h-1zM577 222h1v1h-1zM578 223h1v2h-1zM579 225h5v1h-5zM580 226h1v1h-1zM583 226h1v1h-1zM583 227h2v1h-2zM584 228h2v1h-2zM585 229h2v1h-2zM586 230h2v1h-2zM588 231h2v1h-2zM589 232h1v1h-1zM590 233h1v1h-1zM591 234h1v2h-1zM592 236h1v1h-1zM593 238h1v1h-1zM593 237h3v1h-3zM595 236h2v1h-2zM597 234h1v1h-1zM597 235h2v1h-2zM598 236h1v1h-1zM599 237h1v2h-1zM600 239h1v1h-1zM601 240h2v1h-2zM602 241h2v1h-2zM603 242h3v1h-3zM605 243h3v1h-3zM608 244h1v1h-1zM609 243h1v1h-1zM609 245h1v1h-1zM610 234h1v1h-1zM610 238h1v1h-1zM610 241h1v1h-1zM611 231h1v1h-1zM612 232h1v1h-1zM612 234h1v1h-1zM612 236h1v1h-1zM613 238h2v1h-2zM614 239h1v1h-1zM615 242h1v2h-1zM616 244h1v2h-1zM616 246h2v1h-2zM617 247h1v1h-1zM618 248h1v1h-1zM618 249h2v1h-2zM619 250h4v1h-4zM622 249h1v1h-1zM623 246h1v1h-1zM623 248h1v1h-1z"><title>LYRA Al proxy (blue)</title></path>
<path fill="#000000" d="M18 185h2v1h-2zM18 184h4v1h-4zM19 183h1v1h-1zM20 182h1v1h-1zM20 186h1v4h-1zM20 208h1v1h-1zM20 216h1v1h-1zM20 181h2v1h-2zM20 209h2v1h-2zM20 245h6v1h-6zM21 183h1v1h-1zM21 185h1v1h-1zM21 202h1v1h-1zM21 244h1v1h-1zM21 269h1v3h-1zM21 274h1v3h-1zM21 280h1v2h-1zM21 285h1v3h-1zM21 217h2v1h-2zM21 272h2v1h-2zM21 282h2v1h-2zM21 205h3v1h-3zM21 207h3v1h-3zM21 210h5v1h-5zM21 247h5v1h-5zM21 263h5v1h-5zM21 277h5v1h-5zM21 279h5v1h-5zM21 288h5v1h-5zM22 192h1v2h-1zM22 195h1v1h-1zM22 227h1v2h-1zM22 231h1v2h-1zM22 236h1v2h-1zM22 241h1v2h-1zM22 248h1v2h-1zM22 253h1v1h-1zM22 256h1v1h-1zM22 259h1v2h-1zM22 284h1v1h-1zM22 196h2v1h-2zM22 254h2v1h-2zM22 257h2v1h-2zM22 283h3v1h-3zM22 180h4v1h-4zM22 191h4v1h-4zM22 194h4v1h-4zM22 197h4v1h-4zM22 203h4v2h-4zM22 226h4v1h-4zM22 233h4v1h-4zM22 235h4v1h-4zM22 238h4v1h-4zM22 240h4v1h-4zM22 252h4v1h-4zM22 258h4v1h-4zM22 261h4v1h-4zM23 230h1v1h-1zM23 270h1v2h-1zM23 275h1v2h-1zM23 218h2v1h-2zM23 229h2v1h-2zM23 243h3v1h-3zM23 250h3v1h-3zM23 269h3v1h-3zM24 255h1v1h-1zM24 284h1v1h-1zM24 206h2v1h-2zM24 227h2v2h-2zM24 282h2v1h-2zM24 285h2v2h-2zM25 219h1v1h-1zM25 230h1v3h-1zM25 241h1v2h-1zM25 248h1v2h-1zM25 253h1v2h-1zM25 270h1v3h-1zM25 274h1v3h-1zM25 280h1v2h-1zM25 287h1v1h-1zM26 181h2v1h-2zM26 209h2v1h-2zM26 220h2v1h-2zM27 182h1v1h-1zM27 208h1v1h-1zM34 24h2v2h-2zM34 127h2v2h-2zM34 232h2v2h-2zM34 337h2v2h-2zM34 439h2v2h-2zM35 26h1v4h-1zM35 129h1v4h-1zM35 234h1v4h-1zM35 339h1v4h-1zM35 441h1v4h-1zM38 25h1v4h-1zM38 128h1v4h-1zM38 233h1v4h-1zM38 338h1v4h-1zM38 440h1v4h-1zM39 24h3v1h-3zM39 29h3v1h-3zM39 127h3v1h-3zM39 132h3v1h-3zM39 232h3v1h-3zM39 237h3v1h-3zM39 337h3v1h-3zM39 342h3v1h-3zM39 439h3v1h-3zM39 444h3v1h-3zM41 25h1v4h-1zM41 128h1v4h-1zM41 233h1v4h-1zM41 338h1v4h-1zM41 440h1v4h-1zM43 337h4v1h-4zM43 127h5v1h-5zM43 232h5v1h-5zM43 439h5v1h-5zM43 24h7v1h-7zM47 338h1v1h-1zM47 23h2v1h-2zM47 125h3v2h-3zM47 128h3v1h-3zM47 230h3v2h-3zM47 233h3v1h-3zM47 335h3v1h-3zM47 437h3v2h-3zM47 440h3v1h-3zM48 22h1v1h-1zM48 25h1v1h-1zM48 336h1v2h-1zM49 127h1v1h-1zM49 232h1v1h-1zM49 439h1v1h-1zM49 454h1v1h-1zM49 453h2v1h-2zM50 452h1v1h-1zM50 455h1v2h-1zM50 451h4v1h-4zM50 457h4v1h-4zM52 25h1v4h-1zM52 30h1v4h-1zM52 35h1v5h-1zM52 41h1v6h-1zM52 48h1v8h-1zM52 57h1v9h-1zM52 67h1v12h-1zM52 80h1v17h-1zM52 98h1v31h-1zM52 130h1v4h-1zM52 135h1v4h-1zM52 140h1v5h-1zM52 146h1v6h-1zM52 153h1v8h-1zM52 162h1v9h-1zM52 172h1v12h-1zM52 185h1v17h-1zM52 203h1v31h-1zM52 235h1v4h-1zM52 240h1v4h-1zM52 245h1v5h-1zM52 251h1v6h-1zM52 258h1v8h-1zM52 267h1v9h-1zM52 277h1v12h-1zM52 290h1v17h-1zM52 308h1v31h-1zM52 340h1v4h-1zM52 345h1v4h-1zM52 350h1v5h-1zM52 356h1v6h-1zM52 363h1v8h-1zM52 372h1v9h-1zM52 382h1v12h-1zM52 395h1v17h-1zM52 413h1v31h-1zM52 29h7v1h-7zM52 34h7v1h-7zM52 40h7v1h-7zM52 47h7v1h-7zM52 56h7v1h-7zM52 66h7v1h-7zM52 79h7v1h-7zM52 97h7v1h-7zM52 134h7v1h-7zM52 139h7v1h-7zM52 145h7v1h-7zM52 152h7v1h-7zM52 161h7v1h-7zM52 171h7v1h-7zM52 184h7v1h-7zM52 202h7v1h-7zM52 239h7v1h-7zM52 244h7v1h-7zM52 250h7v1h-7zM52 257h7v1h-7zM52 266h7v1h-7zM52 276h7v1h-7zM52 289h7v1h-7zM52 307h7v1h-7zM52 344h7v1h-7zM52 349h7v1h-7zM52 355h7v1h-7zM52 362h7v1h-7zM52 371h7v1h-7zM52 381h7v1h-7zM52 394h7v1h-7zM52 412h7v1h-7zM52 129h120v1h-120zM52 234h162v1h-162zM52 24h573v1h-573zM52 339h573v1h-573zM52 444h573v1h-573zM54 452h1v5h-1zM76 25h1v4h-1zM76 440h1v4h-1zM100 25h1v4h-1zM100 440h1v4h-1zM124 25h1v4h-1zM124 440h1v4h-1zM147 25h1v4h-1zM147 440h1v4h-1zM158 13h1v5h-1zM158 12h2v1h-2zM159 18h1v1h-1zM159 11h2v1h-2zM160 10h3v1h-3zM160 19h4v1h-4zM162 16h3v1h-3zM163 11h1v1h-1zM163 18h2v1h-2zM164 12h1v1h-1zM164 17h1v1h-1zM166 13h1v4h-1zM167 12h1v1h-1zM167 17h1v2h-1zM168 11h1v1h-1zM168 19h4v1h-4zM169 452h1v1h-1zM169 456h1v1h-1zM169 10h2v1h-2zM169 453h4v1h-4zM169 457h5v1h-5zM170 451h4v1h-4zM171 11h1v1h-1zM171 25h1v8h-1zM171 436h1v8h-1zM172 12h1v2h-1zM172 17h1v2h-1zM172 16h2v1h-2zM173 14h1v2h-1zM173 454h1v3h-1zM174 129h1v1h-1zM175 11h1v3h-1zM175 15h1v4h-1zM175 14h5v1h-5zM175 10h6v1h-6zM175 19h6v1h-6zM176 129h320v1h-320zM182 12h1v1h-1zM183 11h1v1h-1zM183 13h1v1h-1zM183 18h1v1h-1zM183 14h3v1h-3zM183 19h5v1h-5zM184 10h3v1h-3zM186 15h2v1h-2zM187 11h1v1h-1zM188 12h1v1h-1zM188 16h1v3h-1zM195 25h1v4h-1zM195 440h1v4h-1zM197 12h1v7h-1zM198 11h1v1h-1zM198 19h4v1h-4zM199 10h2v1h-2zM201 11h1v1h-1zM201 18h1v1h-1zM202 12h1v6h-1zM205 18h1v1h-1zM205 19h2v1h-2zM210 12h1v1h-1zM211 11h2v1h-2zM212 10h1v1h-1zM212 12h1v8h-1zM216 234h4v1h-4zM217 15h8v1h-8zM219 25h1v4h-1zM219 440h1v4h-1zM221 234h43v1h-43zM227 12h1v7h-1zM228 11h1v1h-1zM228 19h4v1h-4zM229 10h2v1h-2zM231 11h1v1h-1zM231 18h1v1h-1zM232 12h1v6h-1zM235 18h1v1h-1zM235 19h2v1h-2zM238 16h1v2h-1zM239 11h1v3h-1zM239 15h1v1h-1zM239 18h1v1h-1zM239 19h5v1h-5zM240 10h3v1h-3zM240 14h4v1h-4zM243 11h1v1h-1zM243 13h1v1h-1zM243 25h1v4h-1zM243 440h1v4h-1zM243 15h2v1h-2zM244 12h1v1h-1zM244 16h1v3h-1zM247 13h1v1h-1zM247 15h1v5h-1zM247 14h2v1h-2zM249 13h2v1h-2zM251 14h1v6h-1zM254 13h1v1h-1zM254 15h1v5h-1zM254 14h2v1h-2zM256 13h2v1h-2zM258 14h2v1h-2zM259 15h1v5h-1zM260 13h3v1h-3zM263 14h1v6h-1zM265 234h1v1h-1zM266 463h5v1h-5zM267 25h1v4h-1zM267 440h1v4h-1zM267 234h6v1h-6zM268 464h1v6h-1zM272 14h1v3h-1zM272 462h1v2h-1zM272 465h1v5h-1zM273 12h1v2h-1zM273 17h1v3h-1zM273 11h2v1h-2zM274 10h1v1h-1zM274 20h1v2h-1zM274 234h2v1h-2zM275 9h1v1h-1zM275 22h1v1h-1zM275 466h1v4h-1zM275 465h7v1h-7zM277 234h7v1h-7zM278 13h1v1h-1zM278 15h1v5h-1zM278 466h1v4h-1zM278 14h2v1h-2zM280 13h2v1h-2zM281 466h2v1h-2zM282 467h1v3h-1zM283 15h1v1h-1zM283 17h1v2h-1zM283 14h2v1h-2zM283 16h5v1h-5zM284 466h1v1h-1zM284 468h1v1h-1zM284 19h4v1h-4zM284 467h5v1h-5zM285 13h2v1h-2zM285 465h3v1h-3zM285 469h3v1h-3zM286 452h2v1h-2zM286 234h109v1h-109zM287 14h1v2h-1zM287 18h1v1h-1zM287 451h1v1h-1zM287 453h1v5h-1zM287 466h2v1h-2zM288 468h1v1h-1zM290 15h1v4h-1zM290 25h1v8h-1zM290 436h1v8h-1zM290 14h2v1h-2zM291 453h1v3h-1zM291 19h4v1h-4zM292 452h1v1h-1zM292 456h1v1h-1zM292 13h3v1h-3zM292 451h4v1h-4zM292 457h4v1h-4zM294 10h1v3h-1zM294 14h1v5h-1zM294 472h1v1h-1zM295 452h1v1h-1zM295 456h1v1h-1zM295 470h1v2h-1zM296 453h1v3h-1zM296 468h1v2h-1zM297 9h1v1h-1zM297 22h1v1h-1zM297 466h1v2h-1zM298 10h1v1h-1zM298 21h1v1h-1zM298 464h1v2h-1zM299 11h1v1h-1zM299 19h1v2h-1zM299 462h1v2h-1zM299 12h2v1h-2zM300 13h1v6h-1zM300 461h1v1h-1zM303 18h1v1h-1zM303 21h1v1h-1zM303 19h2v2h-2zM307 463h1v2h-1zM307 466h1v4h-1zM307 465h4v1h-4zM310 466h1v4h-1zM313 10h1v9h-1zM313 19h6v1h-6zM314 25h1v4h-1zM314 440h1v4h-1zM318 463h1v6h-1zM319 10h1v2h-1zM319 469h4v1h-4zM320 12h1v1h-1zM321 13h1v1h-1zM322 14h1v6h-1zM322 463h1v6h-1zM323 13h1v1h-1zM324 12h1v1h-1zM324 463h5v1h-5zM325 10h1v2h-1zM326 464h1v6h-1zM327 11h1v3h-1zM327 15h1v5h-1zM327 10h5v1h-5zM327 14h6v1h-6zM330 15h1v1h-1zM330 464h1v5h-1zM331 16h1v2h-1zM331 463h4v1h-4zM331 469h4v1h-4zM332 11h1v1h-1zM332 18h1v1h-1zM333 12h1v2h-1zM333 19h2v1h-2zM334 464h1v1h-1zM334 468h1v1h-1zM335 17h1v2h-1zM335 16h5v1h-5zM336 13h1v3h-1zM337 10h1v1h-1zM337 469h1v3h-1zM337 11h2v2h-2zM338 13h1v1h-1zM338 25h1v4h-1zM338 440h1v4h-1zM339 14h1v2h-1zM340 17h1v2h-1zM341 19h1v1h-1zM345 464h1v1h-1zM345 463h4v1h-4zM345 469h5v1h-5zM346 468h1v1h-1zM347 467h1v1h-1zM348 17h1v3h-1zM348 466h1v1h-1zM348 465h2v1h-2zM349 14h1v2h-1zM349 464h1v1h-1zM349 16h5v1h-5zM350 13h1v1h-1zM350 12h2v1h-2zM351 10h1v2h-1zM351 464h1v5h-1zM352 13h1v2h-1zM352 463h4v1h-4zM352 469h4v1h-4zM353 15h1v1h-1zM353 17h1v1h-1zM354 18h1v2h-1zM355 464h1v5h-1zM356 10h1v10h-1zM362 25h1v4h-1zM362 440h1v4h-1zM362 464h1v1h-1zM362 468h1v1h-1zM363 465h2v1h-2zM363 463h4v1h-4zM363 469h4v1h-4zM364 466h3v1h-3zM365 14h1v3h-1zM366 12h1v2h-1zM366 17h1v3h-1zM366 11h2v1h-2zM367 10h1v1h-1zM367 20h1v2h-1zM367 464h1v1h-1zM367 467h1v2h-1zM368 9h1v1h-1zM368 22h1v1h-1zM369 466h1v1h-1zM369 468h1v1h-1zM369 467h5v1h-5zM370 465h3v1h-3zM370 469h3v1h-3zM371 10h1v3h-1zM371 14h1v5h-1zM371 13h4v1h-4zM371 19h4v1h-4zM372 466h2v1h-2zM373 468h1v1h-1zM375 14h1v2h-1zM375 18h1v1h-1zM375 466h1v3h-1zM375 470h1v3h-1zM375 465h4v1h-4zM375 469h4v1h-4zM376 16h1v2h-1zM378 10h1v10h-1zM378 466h1v1h-1zM378 468h1v1h-1zM379 467h1v1h-1zM382 13h1v6h-1zM382 19h5v1h-5zM385 18h2v1h-2zM386 13h1v5h-1zM386 25h1v4h-1zM386 440h1v4h-1zM386 464h1v1h-1zM386 463h4v1h-4zM386 469h5v1h-5zM387 468h1v1h-1zM388 467h1v1h-1zM389 15h1v1h-1zM389 17h1v2h-1zM389 466h1v1h-1zM389 14h2v1h-2zM389 465h2v1h-2zM389 16h5v1h-5zM390 464h1v1h-1zM390 19h4v1h-4zM391 13h2v1h-2zM392 464h1v5h-1zM393 14h1v2h-1zM393 18h1v1h-1zM393 463h3v1h-3zM393 469h3v1h-3zM396 9h1v1h-1zM396 22h1v1h-1zM396 464h1v5h-1zM396 234h24v1h-24zM397 10h1v2h-1zM397 20h1v2h-1zM398 12h1v2h-1zM398 17h1v3h-1zM398 14h2v1h-2zM399 15h1v2h-1zM399 464h3v1h-3zM400 463h2v1h-2zM401 465h1v5h-1zM405 464h1v1h-1zM405 468h1v1h-1zM405 452h3v1h-3zM405 463h4v1h-4zM405 465h4v1h-4zM405 469h4v1h-4zM406 451h2v1h-2zM407 453h1v5h-1zM408 16h1v3h-1zM408 15h2v1h-2zM408 19h5v1h-5zM409 466h1v3h-1zM410 11h1v3h-1zM410 25h1v8h-1zM410 436h1v8h-1zM410 456h1v1h-1zM410 14h2v1h-2zM411 10h1v1h-1zM411 15h1v1h-1zM411 452h1v1h-1zM411 451h4v1h-4zM411 453h4v1h-4zM411 457h4v1h-4zM412 11h1v3h-1zM412 16h2v3h-2zM414 15h1v1h-1zM414 14h2v1h-2zM414 19h2v1h-2zM415 13h1v1h-1zM415 18h1v1h-1zM415 454h1v3h-1zM421 234h38v1h-38zM424 10h7v1h-7zM424 19h7v1h-7zM425 17h1v2h-1zM426 16h1v1h-1zM427 14h1v2h-1zM428 13h1v1h-1zM429 11h1v2h-1zM432 13h1v1h-1zM432 16h1v4h-1zM432 14h2v2h-2zM433 25h1v4h-1zM433 440h1v4h-1zM434 13h3v1h-3zM444 12h1v7h-1zM445 11h1v1h-1zM445 19h1v2h-1zM446 9h1v2h-1zM446 21h1v1h-1zM447 22h1v1h-1zM449 15h1v3h-1zM449 14h2v1h-2zM449 18h2v1h-2zM450 21h1v1h-1zM450 19h5v1h-5zM451 13h2v1h-2zM451 22h2v1h-2zM453 21h1v1h-1zM453 14h2v1h-2zM453 18h2v1h-2zM454 13h1v1h-1zM454 15h1v3h-1zM454 20h1v1h-1zM457 13h1v1h-1zM457 15h1v5h-1zM457 25h1v4h-1zM457 440h1v4h-1zM457 14h2v1h-2zM459 13h2v1h-2zM460 234h99v1h-99zM462 15h1v1h-1zM462 17h1v2h-1zM462 14h2v1h-2zM462 16h5v1h-5zM463 19h4v1h-4zM464 13h2v1h-2zM466 14h1v2h-1zM466 18h1v1h-1zM468 13h1v1h-1zM468 22h2v1h-2zM469 14h1v3h-1zM470 20h1v2h-1zM470 17h2v2h-2zM471 19h1v1h-1zM472 15h1v2h-1zM473 13h1v2h-1zM475 9h1v1h-1zM475 22h1v1h-1zM476 10h1v1h-1zM476 21h1v1h-1zM476 20h2v1h-2zM477 11h1v3h-1zM477 18h1v2h-1zM478 14h1v4h-1zM481 25h1v4h-1zM481 440h1v4h-1zM487 13h1v1h-1zM487 15h1v4h-1zM487 20h1v3h-1zM487 14h2v1h-2zM487 19h5v1h-5zM489 488h1v2h-1zM489 491h1v4h-1zM489 13h2v1h-2zM489 487h5v1h-5zM489 490h5v1h-5zM491 14h2v1h-2zM491 18h2v1h-2zM492 15h1v3h-1zM492 491h1v2h-1zM493 493h1v1h-1zM493 489h2v1h-2zM494 488h1v1h-1zM494 494h1v1h-1zM495 13h1v1h-1zM495 15h1v5h-1zM495 14h2v1h-2zM496 488h1v6h-1zM497 13h2v1h-2zM497 487h4v1h-4zM497 494h4v1h-4zM497 129h6v1h-6zM499 16h1v1h-1zM499 17h2v1h-2zM500 14h1v2h-1zM500 18h1v1h-1zM500 493h1v1h-1zM500 488h2v1h-2zM501 489h1v4h-1zM501 13h3v1h-3zM501 19h3v1h-3zM503 488h1v2h-1zM503 491h1v3h-1zM503 490h5v1h-5zM503 494h5v1h-5zM503 487h6v1h-6zM504 14h1v2h-1zM504 18h1v1h-1zM504 17h2v1h-2zM504 129h4v1h-4zM505 16h1v1h-1zM505 25h1v4h-1zM505 440h1v4h-1zM507 13h1v1h-1zM507 19h1v1h-1zM508 14h1v2h-1zM508 17h1v2h-1zM508 488h1v2h-1zM508 491h1v3h-1zM509 16h1v1h-1zM510 15h1v1h-1zM510 17h1v1h-1zM510 496h1v1h-1zM510 129h115v1h-115zM511 13h1v2h-1zM511 18h1v2h-1zM511 494h1v2h-1zM512 492h1v2h-1zM513 13h1v1h-1zM513 490h1v2h-1zM513 22h2v1h-2zM514 14h1v3h-1zM514 488h1v2h-1zM515 20h1v2h-1zM515 486h1v2h-1zM515 17h2v2h-2zM516 19h1v1h-1zM516 485h1v1h-1zM517 15h1v2h-1zM518 13h1v2h-1zM518 488h1v2h-1zM518 493h1v1h-1zM518 487h5v1h-5zM518 494h5v1h-5zM519 490h2v1h-2zM521 491h2v1h-2zM522 488h1v1h-1zM522 492h1v2h-1zM523 457h6v1h-6zM524 452h1v1h-1zM524 451h4v1h-4zM525 456h1v1h-1zM525 487h1v8h-1zM526 455h1v1h-1zM526 454h2v1h-2zM527 452h1v2h-1zM527 488h1v6h-1zM527 487h5v1h-5zM527 494h5v1h-5zM529 25h1v8h-1zM529 436h1v8h-1zM530 452h1v5h-1zM530 451h4v1h-4zM530 457h4v1h-4zM531 493h1v1h-1zM531 488h2v1h-2zM532 489h1v4h-1zM534 452h1v5h-1zM534 489h1v4h-1zM534 488h2v1h-2zM535 493h1v1h-1zM535 487h4v1h-4zM535 494h4v1h-4zM539 488h1v1h-1zM539 492h1v2h-1zM541 494h2v1h-2zM542 493h1v1h-1zM542 495h1v1h-1zM550 488h1v2h-1zM550 491h1v3h-1zM550 487h5v1h-5zM550 490h5v1h-5zM550 494h5v1h-5zM553 25h1v4h-1zM553 440h1v4h-1zM554 491h1v1h-1zM554 489h2v1h-2zM554 493h2v1h-2zM555 488h1v1h-1zM555 492h1v1h-1zM557 491h1v4h-1zM557 490h2v1h-2zM557 489h5v1h-5zM560 234h31v1h-31zM561 490h1v3h-1zM561 493h2v1h-2zM562 494h4v1h-4zM565 489h1v5h-1zM568 490h1v1h-1zM568 493h1v1h-1zM568 491h2v1h-2zM568 489h4v1h-4zM568 494h4v1h-4zM570 492h2v1h-2zM571 490h1v1h-1zM571 493h1v1h-1zM573 490h1v1h-1zM573 493h1v1h-1zM574 491h2v1h-2zM574 489h4v1h-4zM574 494h4v1h-4zM576 25h1v4h-1zM576 440h1v4h-1zM576 492h2v1h-2zM577 490h1v1h-1zM577 493h1v1h-1zM579 490h1v1h-1zM579 492h1v2h-1zM579 491h5v1h-5zM580 489h3v1h-3zM580 494h3v1h-3zM583 490h1v1h-1zM583 493h1v1h-1zM585 487h1v8h-1zM588 490h1v1h-1zM588 493h1v1h-1zM588 491h3v1h-3zM588 489h4v1h-4zM588 494h4v1h-4zM590 492h2v1h-2zM591 490h1v1h-1zM591 493h1v1h-1zM592 234h5v1h-5zM594 493h1v3h-1zM598 234h12v1h-12zM600 25h1v4h-1zM600 440h1v4h-1zM602 488h1v2h-1zM602 491h1v3h-1zM602 490h5v1h-5zM602 494h5v1h-5zM602 487h6v1h-6zM607 488h1v2h-1zM607 491h1v3h-1zM609 492h1v2h-1zM609 490h2v1h-2zM609 491h5v1h-5zM610 489h3v1h-3zM610 494h3v1h-3zM611 234h1v1h-1zM613 490h1v1h-1zM613 493h1v1h-1zM613 234h4v1h-4zM615 487h1v8h-1zM618 250h1v1h-1zM618 266h1v1h-1zM618 490h1v4h-1zM618 234h5v1h-5zM618 29h7v1h-7zM618 34h7v1h-7zM618 40h7v1h-7zM618 47h7v1h-7zM618 56h7v1h-7zM618 66h7v1h-7zM618 79h7v1h-7zM618 97h7v1h-7zM618 134h7v1h-7zM618 139h7v1h-7zM618 145h7v1h-7zM618 152h7v1h-7zM618 161h7v1h-7zM618 171h7v1h-7zM618 184h7v1h-7zM618 202h7v1h-7zM618 239h7v1h-7zM618 244h7v1h-7zM618 257h7v1h-7zM618 276h7v1h-7zM618 289h7v1h-7zM618 307h7v1h-7zM618 344h7v1h-7zM618 349h7v1h-7zM618 355h7v1h-7zM618 362h7v1h-7zM618 371h7v1h-7zM618 381h7v1h-7zM618 394h7v1h-7zM618 412h7v1h-7zM619 489h4v1h-4zM619 494h4v1h-4zM619 496h4v1h-4zM622 490h1v4h-1zM622 495h1v1h-1zM623 250h2v1h-2zM623 266h2v1h-2zM624 25h1v4h-1zM624 30h1v4h-1zM624 35h1v5h-1zM624 41h1v6h-1zM624 48h1v8h-1zM624 57h1v9h-1zM624 67h1v12h-1zM624 80h1v17h-1zM624 98h1v31h-1zM624 130h1v4h-1zM624 135h1v4h-1zM624 140h1v5h-1zM624 146h1v6h-1zM624 153h1v8h-1zM624 162h1v9h-1zM624 172h1v12h-1zM624 185h1v17h-1zM624 203h1v36h-1zM624 240h1v4h-1zM624 245h1v5h-1zM624 251h1v6h-1zM624 258h1v8h-1zM624 267h1v9h-1zM624 277h1v12h-1zM624 290h1v17h-1zM624 308h1v31h-1zM624 340h1v4h-1zM624 345h1v4h-1zM624 350h1v5h-1zM624 356h1v6h-1zM624 363h1v8h-1zM624 372h1v9h-1zM624 382h1v12h-1zM624 395h1v17h-1zM624 413h1v31h-1zM624 487h2v1h-2zM625 486h1v1h-1zM625 489h1v6h-1zM627 489h1v5h-1zM628 494h4v1h-4zM631 394h1v1h-1zM631 489h1v5h-1zM632 72h1v1h-1zM632 76h1v4h-1zM632 179h1v4h-1zM632 283h1v2h-1zM632 286h1v3h-1zM632 391h1v1h-1zM632 393h1v1h-1zM632 73h2v3h-2zM632 282h5v1h-5zM632 285h5v1h-5zM632 289h5v1h-5zM632 392h5v1h-5zM633 178h1v1h-1zM633 183h1v1h-1zM633 389h1v2h-1zM633 177h4v1h-4zM633 184h4v1h-4zM634 76h1v2h-1zM634 387h1v2h-1zM634 490h1v5h-1zM634 78h2v1h-2zM634 489h8v1h-8zM635 79h1v1h-1zM635 389h1v3h-1zM636 178h1v1h-1zM636 183h1v1h-1zM636 286h1v1h-1zM636 393h1v2h-1zM636 75h2v3h-2zM636 283h2v1h-2zM636 288h2v1h-2zM637 72h1v3h-1zM637 78h1v2h-1zM637 179h1v1h-1zM637 182h1v1h-1zM637 284h1v1h-1zM637 287h1v1h-1zM637 491h1v4h-1zM637 490h2v1h-2zM641 490h1v5h-1z"><title>Axes, ticks and labels</title></path>

<g class="t" aria-hidden="false">
<text x="338" y="19" text-anchor="middle" font-size="13">GOES 0.1-0.8nm (red), LYRA Al (blue) &amp; Zr (grey) proxy</text>
<text x="338" y="469" text-anchor="middle" font-size="10">Time / h UTC, 20 Sep 2015</text>
<text x="26" y="234" text-anchor="middle" font-size="8" transform="rotate(-90 26 234)">GOES Irradiance / (W m-2)</text>
<text x="52" y="457" text-anchor="middle" font-size="10">0</text>
<text x="171" y="457" text-anchor="middle" font-size="10">5</text>
<text x="290" y="457" text-anchor="middle" font-size="10">10</text>
<text x="410" y="457" text-anchor="middle" font-size="10">15</text>
<text x="529" y="457" text-anchor="middle" font-size="10">20</text>
<text x="49" y="29" text-anchor="end" font-size="8">10-4</text>
<text x="49" y="134" text-anchor="end" font-size="8">10-5</text>
<text x="49" y="239" text-anchor="end" font-size="8">10-6</text>
<text x="49" y="344" text-anchor="end" font-size="8">10-7</text>
<text x="49" y="449" text-anchor="end" font-size="8">10-8</text>
<text x="631" y="79" font-size="10">M</text>
<text x="631" y="184" font-size="10">C</text>
<text x="631" y="289" font-size="10">B</text>
<text x="631" y="394" font-size="10">A</text>
<text x="642" y="494" text-anchor="end" font-size="10">ROB/SIDC, Brussels, Belgium</text>
</g>
</svg>
</body>
</html>
